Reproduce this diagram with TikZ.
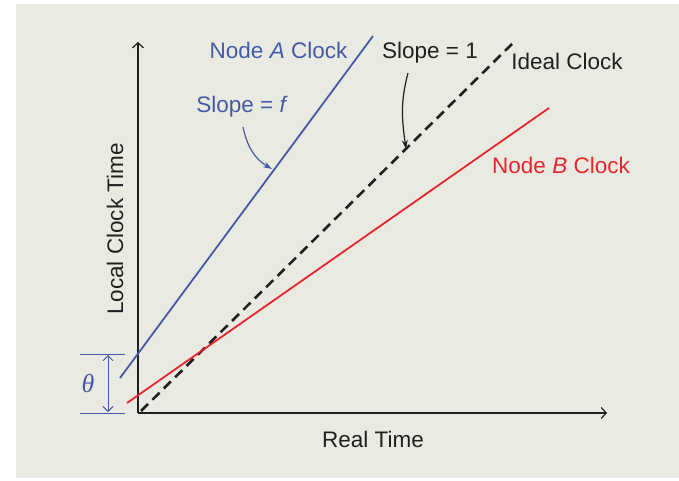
\documentclass[tikz,border=0pt]{standalone}
\usepackage{fontspec}
\setmainfont{Liberation Sans}
\newfontfamily\greekserif{Liberation Serif}
\usetikzlibrary{arrows.meta}
\definecolor{panel}{HTML}{E9EBE2}
\definecolor{ablue}{HTML}{4559A6}
\definecolor{bred}{HTML}{E5252C}
\definecolor{ink}{HTML}{231F20}
\begin{document}
\begin{tikzpicture}[x=1pt,y=-1pt,
  lbl/.style={font=\fontsize{22.5}{27}\selectfont, inner sep=0pt, anchor=base},
  axisline/.style={draw=ink, line width=1.1pt, -{Straight Barb[length=5pt,width=11pt,line width=1.2pt]}},
  clockA/.style={draw=ablue, line width=1.8pt},
  clockB/.style={draw=bred, line width=1.8pt},
  ideal/.style={draw=ink, line width=2.6pt, dash pattern=on 10pt off 6pt},
  pointer/.style={line width=1.2pt, -{Stealth[length=9pt,width=6pt]}},
  dimline/.style={draw=ablue, line width=1pt},
  dimarrow/.style={draw=ablue, line width=1pt, {Straight Barb[length=5pt,width=10pt]}-{Straight Barb[length=5pt,width=10pt]}}
]
\useasboundingbox (0,0) rectangle (679,481);
\fill[white] (0,0) rectangle (679,481);
\fill[panel] (16,4) rectangle (679,478);

% axes
\coordinate (O) at (138,413);
\coordinate (ytop) at (138,42);
\coordinate (xend) at (607,413);
\draw[axisline] (O) -- (ytop);
\draw[axisline] (O) -- (xend);

% clock lines
\coordinate (a1) at (120,378);
\coordinate (a2) at (373,36);
\coordinate (b1) at (127,403);
\coordinate (b2) at (549,108);
\coordinate (i1) at (141,411);
\coordinate (i2) at (516,40);
\draw[ideal] (i1) -- (i2);
\draw[clockB] (b1) -- (b2);
\draw[clockA] (a1) -- (a2);

% theta dimension
\coordinate (t1l) at (80,354);
\coordinate (t1r) at (125,354);
\coordinate (t2l) at (80,413);
\coordinate (t2r) at (125,413);
\coordinate (tu) at (108,355);
\coordinate (td) at (108,412);
\draw[dimline] (t1l) -- (t1r);
\draw[dimline] (t2l) -- (t2r);
\draw[dimarrow] (tu) -- (td);
\node[text=ablue, font=\greekserif\itshape\fontsize{26}{30}\selectfont, inner sep=0pt] (theta) at (88,384) {θ};

% labels
\node[lbl, text=ablue] (labA) at (278.5,59) {Node \textit{A} Clock};
\node[lbl, text=ablue] (slopef) at (242,113) {Slope = \textit{f}};
\node[lbl, text=ink] (slope1) at (430,59) {Slope = 1};
\node[lbl, text=ink] (labI) at (567,70) {Ideal Clock};
\node[lbl, text=bred] (labB) at (561,173) {Node \textit{B} Clock};
\node[lbl, text=ink] (labR) at (373,447) {Real Time};
\node[lbl, text=ink, rotate=90] (labL) at (123,229) {Local Clock Time};

% pointers
\coordinate (fs) at (243,127);
\coordinate (pf) at (272,169);
\coordinate (os) at (408,73);
\coordinate (p1) at (406,149);
\draw[pointer, draw=ablue] (fs) to[out=-78, in=150] (pf);
\draw[pointer, draw=ink] (os) to[out=-105, in=98] (p1);
\end{tikzpicture}
\end{document}
